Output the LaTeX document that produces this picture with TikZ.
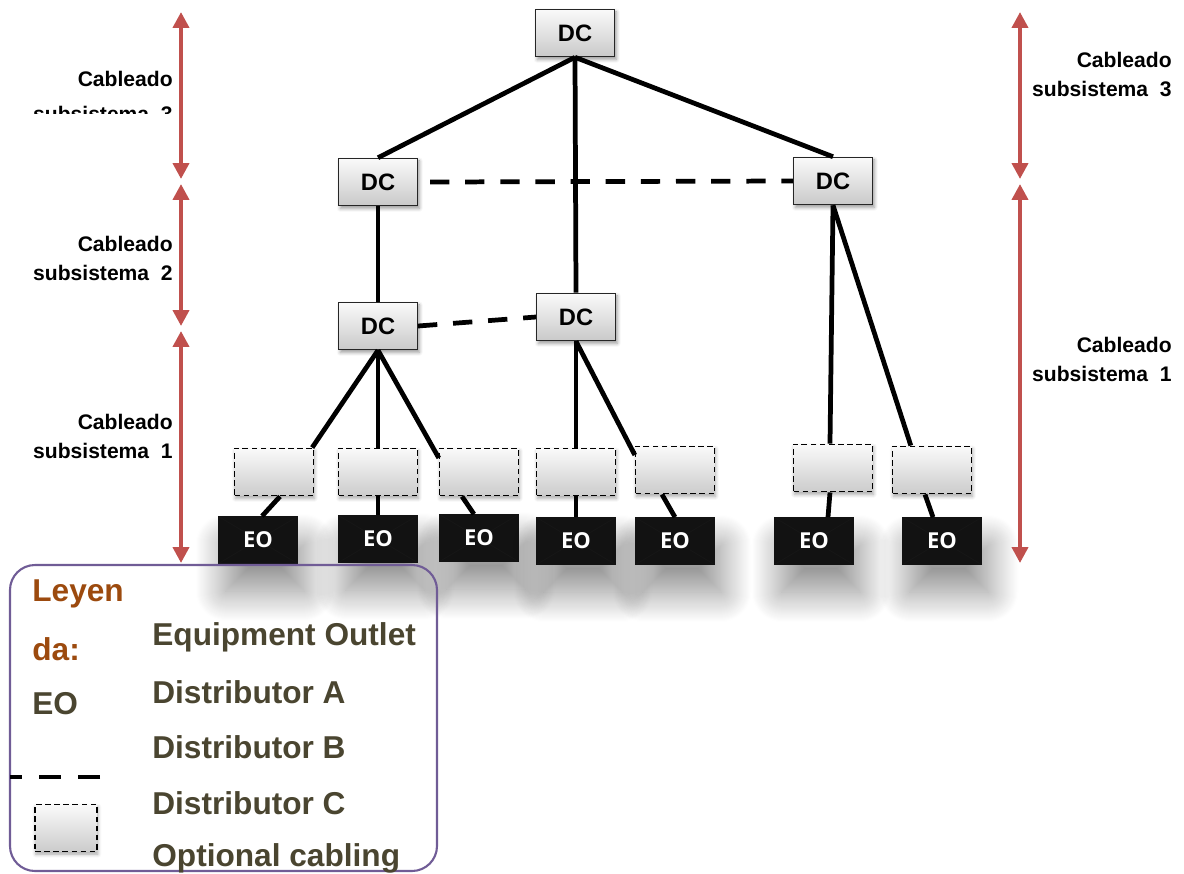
\documentclass[tikz,border=0pt]{standalone}
\usepackage{fontspec}
\setmainfont{Liberation Sans}
\newfontfamily\eofont{Open Sans}
\usetikzlibrary{arrows.meta,calc,shadows.blur}
\definecolor{arrowred}{RGB}{192,80,77}
\definecolor{legbrown}{RGB}{156,74,14}
\definecolor{legolive}{RGB}{74,69,48}
\definecolor{legframe}{RGB}{112,92,150}
\tikzset{
  dcbox/.style={draw=black!85, line width=0.6pt, top color=gray!4, bottom color=gray!42,
    minimum width=1.58cm, minimum height=0.95cm, inner sep=0pt,
    font=\fontsize{13.5}{13.5}\selectfont\bfseries,
    blur shadow={shadow xshift=1pt, shadow yshift=-1.5pt, shadow blur radius=2pt, shadow opacity=40}},
  optbox/.style={draw=black, line width=0.8pt, dash pattern=on 3.2pt off 2pt,
    top color=gray!4, bottom color=gray!40, minimum width=1.58cm, minimum height=0.95cm, inner sep=0pt,
    blur shadow={shadow xshift=0.5pt, shadow yshift=-1.5pt, shadow blur radius=2pt, shadow opacity=35}},
  eobox/.style={fill=black!93, draw=black!93, text=white, minimum width=1.58cm, minimum height=0.94cm, inner sep=0pt,
    font=\eofont\fontsize{12.5}{12.5}\selectfont\bfseries,
    path picture={\draw[black!75!white!35!black, line width=0.5pt]
      (path picture bounding box.north west) -- (path picture bounding box.center) -- (path picture bounding box.north east)
      (path picture bounding box.south west) -- (path picture bounding box.center) -- (path picture bounding box.south east);},
    blur shadow={shadow xshift=4pt, shadow yshift=-0.55cm, shadow blur radius=0.6cm, shadow blur steps=30, shadow opacity=45}},
  cable/.style={line width=2.7pt, black},
  dcable/.style={line width=2.7pt, black, dash pattern=on 11pt off 9pt},
  redarrow/.style={line width=2.2pt, arrowred, {Triangle[width=9pt,length=9pt]}-{Triangle[width=9pt,length=9pt]}},
  sidelabel/.style={anchor=east, align=right, font=\fontsize{12}{16.5}\selectfont\bfseries, inner sep=0pt},
  legtext/.style={anchor=west, inner sep=0pt, font=\fontsize{18}{18}\selectfont\bfseries, text=legolive},
}
\begin{document}
\begin{tikzpicture}[x=0.02cm,y=-0.02cm]
\useasboundingbox (0,0) rectangle (1184,873);

% DC nodes
\node[dcbox] (dc0) at (575,33) {DC};
\node[dcbox] (dc1) at (378,182) {DC};
\node[dcbox] (dc2) at (833,181) {DC};
\node[dcbox] (dc3) at (378,326) {DC};
\node[dcbox] (dc4) at (576,317) {DC};

% optional boxes
\node[optbox] (o1) at (274,472) {};
\node[optbox] (o2) at (378,472) {};
\node[optbox] (o3) at (479,472) {};
\node[optbox] (o4) at (576,472) {};
\node[optbox] (o5) at (675,470) {};
\node[optbox] (o6) at (833,468) {};
\node[optbox] (o7) at (932,470) {};

% EO boxes
\node[eobox] (e1) at (258,540) {EO};
\node[eobox] (e2) at (378,539) {EO};
\node[eobox] (e3) at (479,538) {EO};
\node[eobox] (e4) at (576,541) {EO};
\node[eobox] (e5) at (675,541) {EO};
\node[eobox] (e6) at (814,541) {EO};
\node[eobox] (e7) at (942,541) {EO};

% connectors
\draw[cable] (dc0.south) -- (dc1.north);
\draw[cable] (dc0.south) -- (dc2.north);
\draw[cable] (dc0.south) -- (dc4.north);
\draw[cable] (dc1.south) -- (dc3.north);
\draw[cable] (dc3.south) -- ($(o1.north east)+(-2,0)$);
\draw[cable] (dc3.south) -- (o2.north);
\draw[cable] (dc3.south) -- ($(o3.west)+(0,-14)$);
\draw[cable] (dc4.south) -- (o4.north);
\draw[cable] (dc4.south) -- ($(o5.west)+(0,-15)$);
\draw[cable] (dc2.south) -- ($(o6.north)+(-3,0)$);
\draw[cable] (dc2.south) -- ($(o7.north west)+(19,0)$);
\draw[cable] ($(o1.south)+(6,0)$) -- ($(e1.north)+(4,0)$);
\draw[cable] (o2.south) -- (e2.north);
\draw[cable] ($(o3.south)+(-17,0)$) -- ($(e3.north)+(-5,0)$);
\draw[cable] (o4.south) -- (e4.north);
\draw[cable] ($(o5.south)+(-13,0)$) -- (e5.north);
\draw[cable] ($(o6.south)+(-3,0)$) -- ($(e6.north)+(14,0)$);
\draw[cable] ($(o7.south)+(-7,0)$) -- ($(e7.north)+(-9,0)$);

\draw[dcable] (dc1.east) ++(12,0) -- (dc2.west);
\draw[dcable] (dc3.east) -- (dc4.west);

% red arrows
\coordinate (la0) at (181,12);
\coordinate (la1) at (181,179);
\coordinate (la2) at (181,184);
\coordinate (la3) at (181,326);
\coordinate (la4) at (181,331);
\coordinate (la5) at (181,563);
\draw[redarrow] (la0) -- (la1);
\draw[redarrow] (la2) -- (la3);
\draw[redarrow] (la4) -- (la5);
\coordinate (ra0) at (1020,12);
\coordinate (ra1) at (1020,179);
\coordinate (ra2) at (1020,184);
\coordinate (ra3) at (1020,563);
\draw[redarrow] (ra0) -- (ra1);
\draw[redarrow] (ra2) -- (ra3);

% side labels
\begin{scope}
\clip (0,0) rectangle (180,113);
\node[sidelabel, font=\fontsize{12}{19.9}\selectfont\bfseries] (lab3) at (173,96) {Cableado\\subsistema\ \ 3};
\end{scope}
\node[sidelabel] (lab2) at (173,258.5) {Cableado\\subsistema\ \ 2};
\node[sidelabel] (lab1) at (173,436) {Cableado\\subsistema\ \ 1};
\node[sidelabel] (rlab3) at (1172,74) {Cableado\\subsistema\ \ 3};
\node[sidelabel] (rlab1) at (1172,359.5) {Cableado\\subsistema\ \ 1};

% legend
\draw[legframe, line width=1.2pt, rounded corners=0.5cm] (10,565) rectangle (437,871);
\node[legtext, text=legbrown] (leg1) at (32,594) {Leyen};
\node[legtext, text=legbrown] (leg2) at (32,649) {da:};
\node[legtext] (leg3) at (32,704) {EO};
\node[legtext] (t1) at (152,637) {Equipment Outlet};
\node[legtext] (t2) at (152,692) {Distributor A};
\node[legtext] (t3) at (152,747) {Distributor B};
\node[legtext] (t4) at (152,803) {Distributor C};
\node[legtext] (t5) at (152,858) {Optional cabling};
\coordinate (ld0) at (100,777);
\coordinate (ld1) at (10,777);
\draw[line width=2.7pt, black, dash pattern=on 12.5pt off 9.7pt] (ld0) -- (ld1);
\node[optbox, minimum width=1.24cm, minimum height=0.94cm] (lbox) at (66,828) {};
\end{tikzpicture}
\end{document}
